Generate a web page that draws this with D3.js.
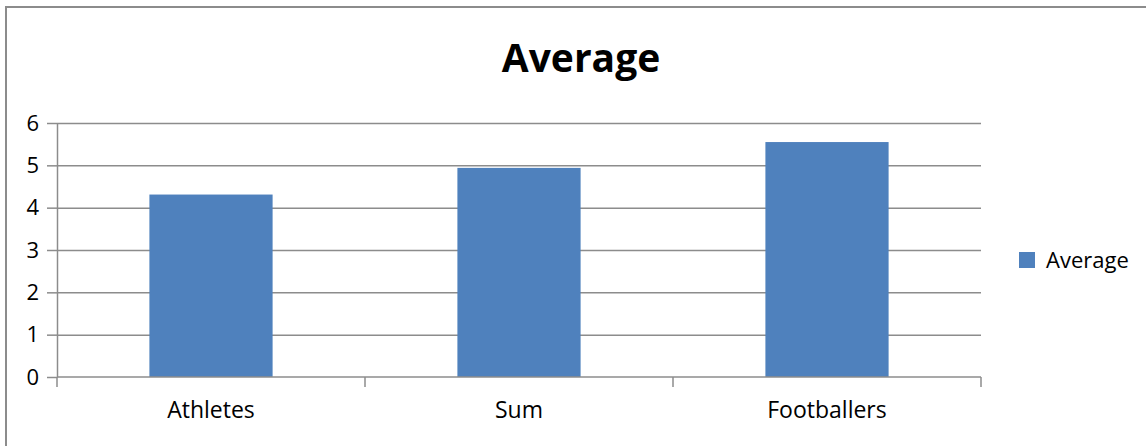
<!DOCTYPE html>
<html><head>
<meta charset="utf-8">
<script src="https://d3js.org/d3.v7.min.js"></script>
<style>
  body { margin: 0; background: #fff; }
  svg text { font-family: "Open Sans", "DejaVu Sans", sans-serif; fill: #000; }
  .gridlines line { stroke: #8c8c8c; stroke-width: 1.5; }
  .gridlines .domain { stroke: none; }
  .axis path, .axis line { stroke: #8c8c8c; stroke-width: 1.5; }
</style>
</head>
<body>
<svg id="chart" width="1146" height="446"></svg>
<script>
  // data
  const categories = ["Athletes", "Sum", "Footballers"];
  const averages = [4.31, 4.94, 5.55];
  const yTicks = [0, 1, 2, 3, 4, 5, 6];
  const seriesName = "Average";

  const svg = d3.select("svg#chart");
  const margin = {top: 123, left: 57, right: 165, bottom: 69};
  const width = +svg.attr("width");
  const height = +svg.attr("height");
  const chartWidth = width - margin.left - margin.right;   // ~924
  const chartHeight = height - margin.top - margin.bottom; // ~254

  // outer frame (only top and left edges are in view)
  svg.append("path")
    .attr("d", "M6," + height + " V7 H" + width)
    .attr("fill", "none")
    .attr("stroke", "#8c8c8c")
    .attr("stroke-width", 2);

  const bandScale = d3.scaleBand().domain(categories).range([0, chartWidth]);
  const yScale = d3.scaleLinear().domain([0, 6]).range([chartHeight, 0]);

  const chart = svg.append("g").attr("transform", "translate(" + margin.left + "," + margin.top + ")");

  // horizontal gridlines
  chart.append("g").attr("class", "gridlines")
    .call(d3.axisLeft(yScale).tickValues(yTicks.slice(1)).tickSize(-chartWidth).tickFormat(""));

  // bars
  const barWidth = bandScale.bandwidth() * 0.4;
  chart.selectAll("rect.bar").data(averages).join("rect")
    .attr("class", "bar")
    .attr("x", (d, i) => bandScale(categories[i]) + (bandScale.bandwidth() - barWidth) / 2)
    .attr("width", barWidth)
    .attr("y", d => yScale(d))
    .attr("height", d => chartHeight - yScale(d))
    .attr("fill", "#4f81bd");

  // y axis
  const yAxis = chart.append("g").attr("class", "axis")
    .call(d3.axisLeft(yScale).tickValues(yTicks).tickFormat(d3.format("d"))
      .tickSize(10).tickSizeOuter(0).tickPadding(8));
  yAxis.selectAll("text").style("font-size", "22px");

  // x axis with ticks at category boundaries
  const xAxisG = chart.append("g").attr("class", "axis")
    .attr("transform", "translate(0," + chartHeight + ")");
  xAxisG.append("line").attr("x1", 0).attr("x2", chartWidth).attr("y1", 0).attr("y2", 0);
  const boundaries = categories.map(c => bandScale(c)).concat([chartWidth]);
  xAxisG.selectAll("line.tick").data(boundaries).join("line")
    .attr("class", "tick")
    .attr("x1", d => d).attr("x2", d => d)
    .attr("y1", 0).attr("y2", 10);
  xAxisG.selectAll("text").data(categories).join("text")
    .attr("x", d => bandScale(d) + bandScale.bandwidth() / 2)
    .attr("y", 41)
    .attr("text-anchor", "middle")
    .style("font-size", "23px")
    .text(d => d);

  // title
  svg.append("text")
    .attr("x", 581).attr("y", 72)
    .attr("text-anchor", "middle")
    .style("font-size", "39px").style("font-weight", "bold")
    .text(seriesName);

  // legend
  const legend = svg.append("g").attr("transform", "translate(1019,252)");
  legend.append("rect").attr("width", 16).attr("height", 16).attr("fill", "#4f81bd");
  legend.append("text").attr("x", 27).attr("y", 16).style("font-size", "22px").text(seriesName);
</script>
</body>
</html>
